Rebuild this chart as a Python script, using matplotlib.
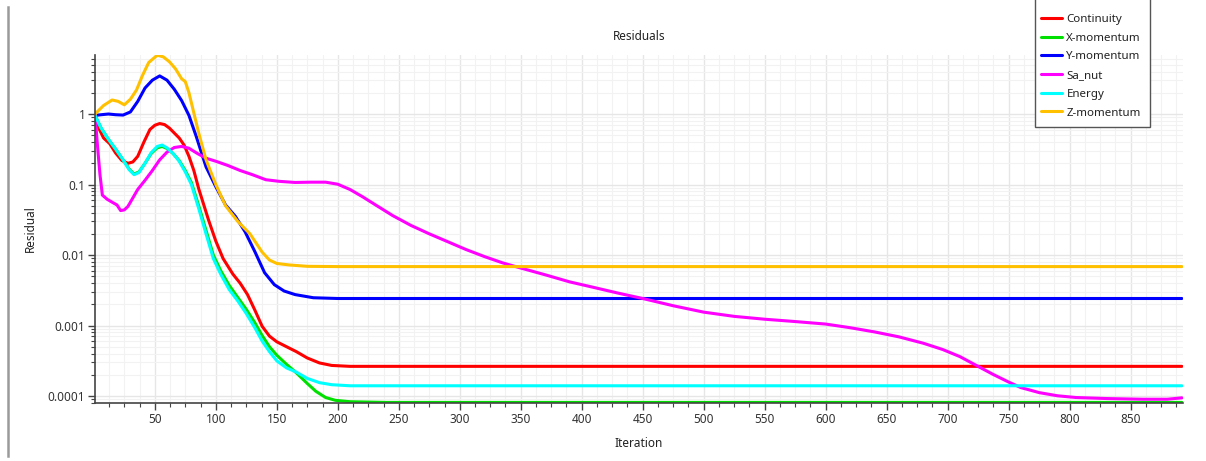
import matplotlib
matplotlib.use("Agg")
import matplotlib.pyplot as plt
import numpy as np
from matplotlib.ticker import MultipleLocator, LogLocator, FixedLocator, FixedFormatter
from matplotlib.lines import Line2D
from matplotlib.patches import Rectangle

plt.rcParams['font.family'] = ['Noto Sans', 'DejaVu Sans']

# residual history
continuity_it = [1, 4, 8, 13, 18, 23, 28, 32, 36, 41, 46, 50, 54, 58, 62, 66, 70, 74, 78, 82,
                 86, 90, 94, 100, 106, 114, 120, 126, 132, 138, 144, 150, 158, 166, 175, 185, 195, 210, 892]
continuity = [0.955, 0.631, 0.457, 0.38, 0.278, 0.219, 0.2, 0.209, 0.251, 0.398,
              0.603, 0.692, 0.733, 0.708, 0.631, 0.537, 0.457, 0.363, 0.251, 0.158,
              0.0871, 0.0525, 0.0316, 0.0158, 0.00891, 0.00537, 0.00398, 0.00275, 0.00166, 0.000977,
              0.000708, 0.000589, 0.000501, 0.000427, 0.000347, 0.000295, 0.000272, 0.000264, 0.000264]

xmom_it = [1, 6, 12, 18, 24, 29, 33, 37, 42, 47, 52, 56, 60, 65, 70, 75, 80, 86, 92, 98,
           104, 111, 118, 125, 132, 138, 144, 150, 158, 166, 175, 182, 190, 198, 210, 240, 892]
xmom = [0.955, 0.631, 0.437, 0.316, 0.224, 0.166, 0.141, 0.151, 0.2, 0.275,
        0.331, 0.347, 0.324, 0.275, 0.219, 0.158, 0.107, 0.0501, 0.0224, 0.01,
        0.00603, 0.00372, 0.00251, 0.0017, 0.0011, 0.000724, 0.000501, 0.00038,
        0.000282, 0.000214, 0.000151, 0.000117, 9.55e-5, 8.71e-5, 8.32e-5, 8.13e-5, 8.13e-5]

ymom_it = [1, 6, 12, 18, 24, 30, 36, 42, 48, 54, 60, 66, 72, 78, 84, 92, 100, 108, 116, 124,
           132, 140, 148, 156, 165, 180, 200, 892]
ymom = [0.955, 0.977, 1.0, 0.977, 0.966, 1.07, 1.51, 2.34, 3.02, 3.47,
        3.02, 2.24, 1.55, 0.955, 0.479, 0.178, 0.0933, 0.0513, 0.0355, 0.0214,
        0.0112, 0.00562, 0.0038, 0.00309, 0.00275, 0.00248, 0.00242, 0.00242]

sanut_it = [1, 3, 5, 7, 11, 15, 19, 22, 25, 28, 32, 36, 42, 48, 54, 60, 66, 72, 78, 85,
            92, 100, 110, 120, 130, 141, 152, 165, 178, 190, 200, 210, 220, 232, 245, 260, 275, 290, 305, 320,
            335, 345, 370, 390, 410, 430, 450, 475, 500, 525, 550, 575, 600, 620, 640, 660, 680, 696, 710, 723,
            737, 750, 760, 775, 790, 805, 830, 860, 880, 892]
sanut = [1.0, 0.355, 0.141, 0.0708, 0.0617, 0.0562, 0.0513, 0.0427, 0.0437, 0.049,
         0.0646, 0.0851, 0.115, 0.158, 0.224, 0.288, 0.335, 0.347, 0.327, 0.275,
         0.236, 0.214, 0.186, 0.158, 0.138, 0.117, 0.111, 0.107, 0.108, 0.108,
         0.101, 0.0851, 0.0676, 0.0501, 0.0363, 0.0263, 0.02, 0.0155, 0.012, 0.00955,
         0.00776, 0.00692, 0.00525, 0.00417, 0.00347, 0.00288, 0.00242, 0.00191, 0.00155, 0.00135,
         0.00123, 0.00114, 0.00105, 0.000933, 0.000813, 0.000692, 0.000562, 0.000457, 0.000363, 0.000275,
         0.000204, 0.000158, 0.000132, 0.000112, 0.000101, 9.55e-5, 9.23e-5, 9.02e-5, 9.02e-5, 9.44e-5]

energy_it = [1, 6, 12, 18, 24, 29, 33, 37, 42, 47, 52, 56, 60, 65, 70, 75, 80, 86, 92, 98,
             104, 111, 118, 125, 132, 138, 144, 150, 158, 166, 175, 185, 195, 210, 892]
energy = [0.955, 0.631, 0.437, 0.316, 0.224, 0.162, 0.138, 0.148, 0.2, 0.282,
          0.347, 0.363, 0.331, 0.275, 0.214, 0.151, 0.1, 0.0457, 0.02, 0.00891,
          0.00537, 0.00324, 0.00224, 0.00148, 0.000933, 0.000603, 0.000427, 0.000316, 0.000251, 0.000219,
          0.000178, 0.000155, 0.000145, 0.00014, 0.00014]

zmom_it = [1, 8, 15, 20, 25, 30, 35, 40, 45, 52, 57, 62, 67, 72, 75, 78, 86, 92, 100, 108,
           118, 128, 138, 144, 150, 160, 175, 200, 892]
zmom = [1.0, 1.32, 1.58, 1.51, 1.35, 1.62, 2.19, 3.55, 5.37, 6.82,
        6.46, 5.50, 4.37, 3.16, 2.88, 2.0, 0.537, 0.224, 0.1, 0.05,
        0.030, 0.020, 0.011, 0.0085, 0.0076, 0.00724, 0.00692, 0.00686, 0.00686]

series = [
    ('Continuity', continuity_it, continuity, '#ff0000'),
    ('X-momentum', xmom_it, xmom, '#00e000'),
    ('Y-momentum', ymom_it, ymom, '#0000ff'),
    ('Sa_nut', sanut_it, sanut, '#ff00ff'),
    ('Energy', energy_it, energy, '#00ffff'),
    ('Z-momentum', zmom_it, zmom, '#ffc000'),
]

fig = plt.figure(figsize=(12.06, 4.61), dpi=100)
ax = fig.add_axes([0.0788, 0.126, 0.9022, 0.755])

handles = []
for name, it, vals, col in series:
    h, = ax.plot(it, vals, color=col, lw=2.2, label=name, solid_capstyle='round')
    handles.append(h)

ax.set_yscale('log')
ax.set_xlim(1, 893)
ax.set_ylim(8.0e-5, 6.9)

ax.xaxis.set_major_locator(MultipleLocator(50))
ax.xaxis.set_minor_locator(MultipleLocator(12.5))
ax.set_xticks(np.arange(50, 900, 50))
ax.yaxis.set_major_locator(FixedLocator([1e-4, 1e-3, 1e-2, 1e-1, 1]))
ax.yaxis.set_major_formatter(FixedFormatter(['0.0001', '0.001', '0.01', '0.1', '1']))
ax.yaxis.set_minor_locator(LogLocator(base=10, subs=np.arange(2, 10), numticks=20))
ax.yaxis.set_minor_formatter(plt.NullFormatter())

ax.grid(which='major', color='#e6e6e6', lw=1.0)
ax.grid(which='minor', color='#f2f2f2', lw=0.8)
ax.set_axisbelow(True)

for s in ['top', 'right']:
    ax.spines[s].set_visible(False)
for s in ['left', 'bottom']:
    ax.spines[s].set_color('#444444')
    ax.spines[s].set_linewidth(1.2)
ax.tick_params(which='major', length=5, width=1, color='#444444', labelsize=8.5, labelcolor='#333333', pad=2)
ax.tick_params(which='minor', length=3, width=0.8, color='#444444')

ax.set_title('Residuals', fontsize=8.5, color='#222222', pad=11)
ax.set_xlabel('Iteration', fontsize=8.5, color='#222222', labelpad=8)
ax.set_ylabel('Residual', fontsize=8.5, color='#222222', labelpad=8)

# legend box, top edge runs off the picture
fig.add_artist(Rectangle((1035 / 1206, 1 - 127 / 461), 115 / 1206, 140 / 461,
                         transform=fig.transFigure, facecolor='white', edgecolor='#555555', lw=1.0, zorder=5))
leg = fig.legend(handles=handles, loc='upper left', bbox_to_anchor=(1033 / 1206, 1 - 6 / 461),
                 frameon=False, fontsize=8.3, labelspacing=0.66, handlelength=1.85,
                 handletextpad=0.35, borderpad=0.2)
leg.set_zorder(6)
for t in leg.get_texts():
    t.set_color('#222222')

# left border line of the panel
fig.add_artist(Line2D([8 / 1206, 8 / 1206], [1 - 7 / 461, 1 - 456 / 461],
                      transform=fig.transFigure, color='#9a9a9a', lw=1.8))

fig.savefig('out.png', dpi=100)
